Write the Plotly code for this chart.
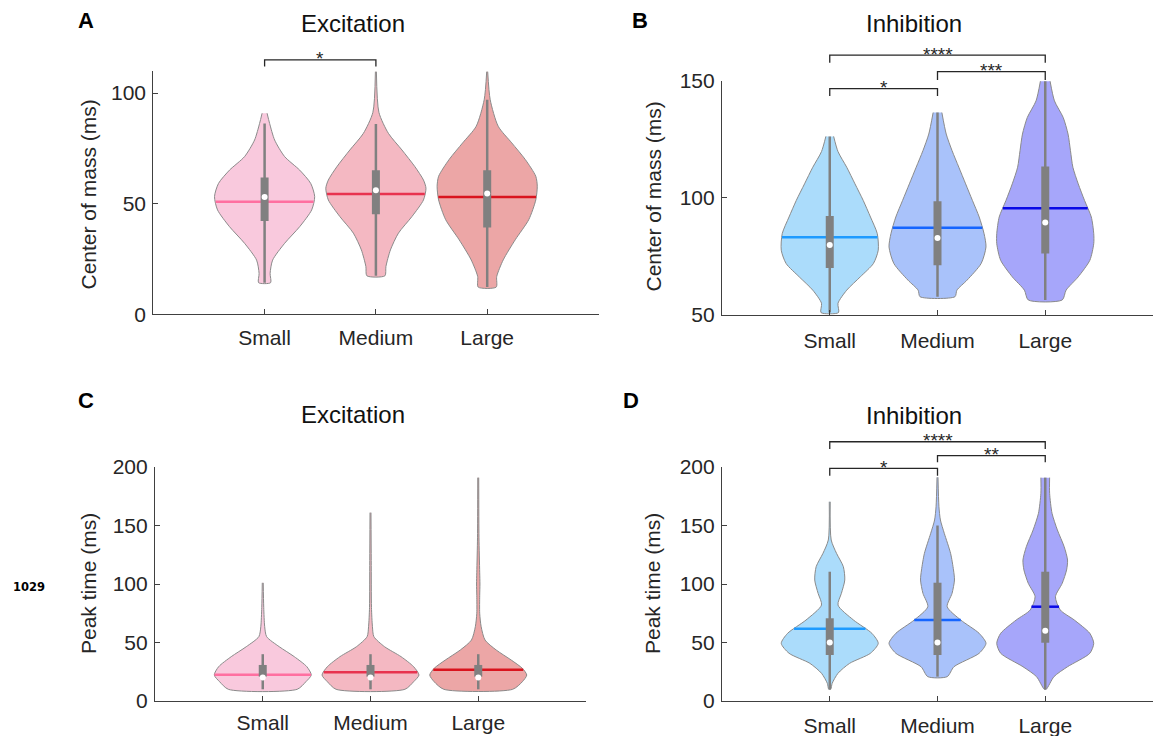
import numpy as np
import plotly.graph_objects as go

W, H = 1160, 736
FONT = "Liberation Sans"

categories = ["Small", "Medium", "Large"]

# ---------------- Panel A : Center of mass, Excitation ----------------
A_small_y = [90.9, 86.3, 78.8, 71.3, 65.2, 59.2, 53.2, 47.2, 39.6, 32.1, 24.5, 18.5, 14.3]
A_small_w = [0.05, 0.10, 0.20, 0.40, 0.70, 0.92, 1.00, 0.94, 0.70, 0.40, 0.16, 0.11, 0.12]
A_medium_y = [109.7, 91.3, 81.8, 74.3, 66.7, 60.7, 57.0, 51.7, 44.2, 36.7, 29.1, 21.6, 17.4]
A_medium_w = [0.01, 0.06, 0.25, 0.52, 0.78, 0.95, 1.00, 0.95, 0.72, 0.45, 0.29, 0.20, 0.18]
A_large_y = [109.7, 97.0, 85.0, 77.5, 70.0, 62.4, 57.9, 51.7, 42.8, 33.7, 24.6, 17.1, 12.3]
A_large_w = [0.01, 0.06, 0.22, 0.49, 0.76, 0.97, 1.00, 0.97, 0.83, 0.56, 0.32, 0.19, 0.18]
A_whisk_lo = [14.3, 17.4, 12.3]
A_whisk_hi = [86.3, 86.0, 97.0]
A_q1 = [42.2, 45.2, 39.2]
A_q3 = [61.8, 65.1, 65.1]
A_median = [53.0, 56.1, 54.6]
A_mean = [50.9, 54.4, 53.0]

# ---------------- Panel B : Center of mass, Inhibition ----------------
B_small_y = [126.3, 119.8, 113.1, 106.0, 98.9, 91.8, 84.7, 77.6, 71.9, 66.2, 60.5, 54.9, 50.9]
B_small_w = [0.08, 0.17, 0.35, 0.52, 0.69, 0.84, 0.98, 1.00, 0.90, 0.63, 0.35, 0.17, 0.18]
B_medium_y = [136.5, 127.3, 120.2, 113.1, 106.0, 98.9, 91.8, 84.7, 79.0, 71.9, 64.8, 60.5, 57.7]
B_medium_w = [0.09, 0.18, 0.30, 0.44, 0.58, 0.72, 0.86, 0.96, 1.00, 0.90, 0.61, 0.40, 0.36]
B_large_y = [149.9, 141.5, 134.4, 127.3, 120.2, 113.1, 106.0, 98.9, 91.8, 84.7, 80.4, 73.3, 66.2, 60.5, 56.3]
B_large_w = [0.10, 0.19, 0.37, 0.47, 0.52, 0.57, 0.68, 0.81, 0.95, 1.00, 1.00, 0.92, 0.68, 0.43, 0.35]
B_whisk_lo = [50.9, 57.7, 56.3]
B_whisk_hi = [126.3, 136.5, 149.9]
B_q1 = [70.0, 71.2, 76.2]
B_q3 = [92.2, 98.5, 113.4]
B_median = [79.8, 82.8, 89.5]
B_mean = [83.1, 87.2, 95.6]

# ---------------- Panel C : Peak time, Excitation ----------------
C_small_y = [101.0, 80.0, 63.5, 55.0, 46.4, 37.9, 29.3, 22.2, 16.5, 10.0]
C_small_w = [0.01, 0.02, 0.04, 0.08, 0.34, 0.65, 0.91, 1.00, 0.89, 0.71]
C_medium_y = [161.0, 120.0, 80.0, 63.5, 55.0, 46.4, 37.9, 29.3, 22.2, 16.5, 10.0]
C_medium_w = [0.01, 0.015, 0.02, 0.04, 0.07, 0.29, 0.63, 0.89, 1.00, 0.89, 0.71]
C_large_y = [190.9, 140.0, 110.0, 100.0, 90.0, 75.0, 63.5, 52.1, 43.6, 35.0, 27.9, 22.2, 16.5, 10.0]
C_large_w = [0.01, 0.015, 0.03, 0.035, 0.03, 0.03, 0.06, 0.14, 0.37, 0.68, 0.91, 1.00, 0.91, 0.71]
C_whisk_lo = [10.0, 10.0, 10.0]
C_whisk_hi = [40.0, 40.0, 40.0]
C_q1 = [20.8, 20.8, 20.8]
C_q3 = [30.8, 30.8, 30.8]
C_median = [20.0, 20.0, 20.0]
C_mean = [22.5, 24.5, 26.8]

# ---------------- Panel D : Peak time, Inhibition ----------------
D_small_y = [170.3, 137.6, 126.2, 114.8, 103.4, 92.0, 82.0, 69.2, 57.8, 49.3, 40.8, 32.2, 23.7, 15.1, 10.0]
D_small_w = [0.01, 0.03, 0.14, 0.28, 0.31, 0.24, 0.17, 0.49, 0.87, 1.00, 0.84, 0.41, 0.17, 0.05, 0.02]
D_medium_y = [191.2, 166.0, 154.7, 143.3, 126.2, 112.0, 103.4, 92.0, 80.6, 69.2, 57.8, 49.3, 40.8, 29.3, 20.8]
D_medium_w = [0.01, 0.03, 0.06, 0.14, 0.27, 0.33, 0.35, 0.30, 0.20, 0.48, 0.86, 1.00, 0.86, 0.34, 0.20]
D_large_y = [190.9, 177.5, 160.4, 146.2, 131.9, 120.5, 112.0, 100.6, 89.1, 77.8, 69.2, 57.8, 49.3, 40.8, 29.3, 20.8, 10.0]
D_large_w = [0.09, 0.09, 0.14, 0.25, 0.39, 0.46, 0.44, 0.35, 0.21, 0.31, 0.60, 0.92, 1.00, 0.92, 0.46, 0.18, 0.02]
D_whisk_lo = [10.0, 20.8, 10.0]
D_whisk_hi = [110.5, 150.0, 190.9]
D_q1 = [39.3, 39.3, 49.8]
D_q3 = [70.7, 101.1, 110.5]
D_median = [50.1, 50.1, 60.1]
D_mean = [61.8, 69.2, 80.6]

# ---------------- significance brackets ----------------
A_pairs = [(1, 2)]
A_bracket_y = [115.0]
A_leg_y = [112.0]
A_stars = ["*"]
B_pairs = [(1, 2), (2, 3), (1, 3)]
B_bracket_y = [146.7, 154.0, 161.1]
B_leg_y = [143.6, 150.4, 157.8]
B_stars = ["*", "***", "****"]
D_pairs = [(1, 2), (2, 3), (1, 3)]
D_bracket_y = [198.9, 209.7, 221.6]
D_leg_y = [192.6, 204.0, 215.4]
D_stars = ["*", "**", "****"]

# ---------------- colours ----------------
exc_fill = ["#F9C9DD", "#F4B8C2", "#ECA6A6"]
exc_mean = ["#FF6FA0", "#E8334F", "#D9141E"]
inh_fill = ["#ABDCFB", "#A9C2FA", "#A6A6FA"]
inh_mean = ["#1E9BFF", "#1565FF", "#0A0AE6"]
EDGE = "#8A8A8A"
BOXC = "#808080"
AXC = "#404040"
TXT = "#262626"
HALF = 0.45  # max half width of a violin in category units


def px2x(p):
    return p / W


def px2y(p):
    return 1 - p / H


panels = [
    dict(key="", xdom=(153.3, 598.5), ydom=(71.0, 314.3), yr=(0, 110), yt=[0, 50, 100],
         ys=[A_small_y, A_medium_y, A_large_y], ws=[A_small_w, A_medium_w, A_large_w],
         lo=A_whisk_lo, hi=A_whisk_hi, q1=A_q1, q3=A_q3, med=A_median, mean=A_mean,
         fill=exc_fill, mc=exc_mean, ytitle="Center of mass (ms)", title="Excitation",
         letter="A", title_px=(352.5, 23.5), letter_px=(85.5, 20.5), ylab_px=(87.5, 195),
         pairs=A_pairs, by=A_bracket_y, ly=A_leg_y, stars=A_stars, standoff=4),
    dict(key="2", xdom=(722.0, 1153.0), ydom=(81.0, 314.7), yr=(50, 150), yt=[50, 100, 150],
         ys=[B_small_y, B_medium_y, B_large_y], ws=[B_small_w, B_medium_w, B_large_w],
         lo=B_whisk_lo, hi=B_whisk_hi, q1=B_q1, q3=B_q3, med=B_median, mean=B_mean,
         fill=inh_fill, mc=inh_mean, ytitle="Center of mass (ms)", title="Inhibition",
         letter="B", title_px=(914.0, 23.5), letter_px=(640.0, 20.5), ylab_px=(652.5, 197),
         pairs=B_pairs, by=B_bracket_y, ly=B_leg_y, stars=B_stars, standoff=7),
    dict(key="3", xdom=(155.0, 586.0), ydom=(467.0, 701.0), yr=(0, 200), yt=[0, 50, 100, 150, 200],
         ys=[C_small_y, C_medium_y, C_large_y], ws=[C_small_w, C_medium_w, C_large_w],
         lo=C_whisk_lo, hi=C_whisk_hi, q1=C_q1, q3=C_q3, med=C_median, mean=C_mean,
         fill=exc_fill, mc=exc_mean, ytitle="Peak time (ms)", title="Excitation",
         letter="C", title_px=(352.5, 414.0), letter_px=(85.5, 400.5), ylab_px=(88.0, 584),
         pairs=[], by=[], ly=[], stars=[], standoff=3),
    dict(key="4", xdom=(722.0, 1153.0), ydom=(467.0, 701.0), yr=(0, 200), yt=[0, 50, 100, 150, 200],
         ys=[D_small_y, D_medium_y, D_large_y], ws=[D_small_w, D_medium_w, D_large_w],
         lo=D_whisk_lo, hi=D_whisk_hi, q1=D_q1, q3=D_q3, med=D_median, mean=D_mean,
         fill=inh_fill, mc=inh_mean, ytitle="Peak time (ms)", title="Inhibition",
         letter="D", title_px=(914.0, 416.0), letter_px=(630.5, 400.5), ylab_px=(652.0, 584),
         pairs=D_pairs, by=D_bracket_y, ly=D_leg_y, stars=D_stars, standoff=6),
]

fig = go.Figure()
annotations = []
shapes = []
layout_axes = {}

for p in panels:
    k = p["key"]
    xa, ya = "x" + k, "y" + k
    ydom = (px2y(p["ydom"][1]), px2y(p["ydom"][0]))
    r0, r1 = p["yr"]

    def ypaper(v, ydom=ydom, r0=r0, r1=r1):
        return ydom[0] + (v - r0) / (r1 - r0) * (ydom[1] - ydom[0])

    for i in range(3):
        c = i + 1
        y = np.array(p["ys"][i], dtype=float)
        w = np.array(p["ws"][i], dtype=float) * HALF
        xs = np.concatenate([c - w, (c + w)[::-1]])
        yy = np.concatenate([y, y[::-1]])
        fig.add_trace(go.Scatter(
            x=xs, y=yy, mode="lines", fill="toself", fillcolor=p["fill"][i],
            line=dict(color=EDGE, width=1, shape="spline", smoothing=0.7),
            xaxis=xa, yaxis=ya, hoverinfo="skip", showlegend=False))
        # mean line across the local violin width
        order = np.argsort(y)
        mw = float(np.interp(p["mean"][i], y[order], w[order]))
        fig.add_trace(go.Scatter(
            x=[c - mw, c + mw], y=[p["mean"][i], p["mean"][i]], mode="lines",
            line=dict(color=p["mc"][i], width=2.5),
            xaxis=xa, yaxis=ya, hoverinfo="skip", showlegend=False))
        # whisker
        fig.add_trace(go.Scatter(
            x=[c, c], y=[p["lo"][i], p["hi"][i]], mode="lines",
            line=dict(color=BOXC, width=2.5),
            xaxis=xa, yaxis=ya, hoverinfo="skip", showlegend=False))
        # IQR box
        fig.add_trace(go.Scatter(
            x=[c, c], y=[p["q1"][i], p["q3"][i]], mode="lines",
            line=dict(color=BOXC, width=8),
            xaxis=xa, yaxis=ya, hoverinfo="skip", showlegend=False))
        # median
        fig.add_trace(go.Scatter(
            x=[c], y=[p["med"][i]], mode="markers",
            marker=dict(color="white", size=6, line=dict(width=0)),
            xaxis=xa, yaxis=ya, hoverinfo="skip", showlegend=False))

    # brackets
    for (a, b), by, ly, st in zip(p["pairs"], p["by"], p["ly"], p["stars"]):
        shapes.append(dict(type="path", xref=xa, yref="paper",
                           path=f"M {a},{ypaper(ly)} L {a},{ypaper(by)} L {b},{ypaper(by)} L {b},{ypaper(ly)}",
                           line=dict(color=TXT, width=1.3)))
        annotations.append(dict(x=(a + b) / 2, y=ypaper(by) + 1.0 / H, xref=xa, yref="paper", text=st,
                                showarrow=False, xanchor="center", yanchor="middle",
                                font=dict(family=FONT, size=19, color=TXT)))

    axis_style = dict(showline=True, linecolor=AXC, linewidth=1.2, ticks="inside", ticklen=5,
                      tickcolor=AXC, tickwidth=1.2, showgrid=False, zeroline=False,
                      automargin=False, tickfont=dict(family=FONT, size=21, color=TXT))
    layout_axes["xaxis" + k] = dict(axis_style, domain=[px2x(p["xdom"][0]), px2x(p["xdom"][1])],
                                    range=[0, 4], tickmode="array", tickvals=[1, 2, 3],
                                    ticktext=categories, anchor=ya, ticklabelstandoff=p["standoff"])
    layout_axes["yaxis" + k] = dict(axis_style, domain=list(ydom), range=list(p["yr"]),
                                    tickmode="array", tickvals=p["yt"], anchor=xa,
                                    ticklabelstandoff=2)

    annotations.append(dict(x=px2x(p["title_px"][0]), y=px2y(p["title_px"][1]), xref="paper", yref="paper",
                            text=p["title"], showarrow=False, xanchor="center", yanchor="middle",
                            font=dict(family=FONT, size=24, color="#111111")))
    annotations.append(dict(x=px2x(p["letter_px"][0]), y=px2y(p["letter_px"][1]), xref="paper", yref="paper",
                            text="<b>" + p["letter"] + "</b>", showarrow=False, xanchor="center",
                            yanchor="middle", font=dict(family=FONT, size=22, color="#000000")))
    annotations.append(dict(x=px2x(p["ylab_px"][0]), y=px2y(p["ylab_px"][1]), xref="paper", yref="paper",
                            text=p["ytitle"], showarrow=False, xanchor="center", yanchor="middle",
                            textangle=-90, font=dict(family=FONT, size=21, color=TXT)))

annotations.append(dict(x=px2x(28.5), y=px2y(587), xref="paper", yref="paper", text="<b>1029</b>",
                        showarrow=False, xanchor="center", yanchor="middle",
                        font=dict(family="DejaVu Sans", size=11.5, color="#000000")))

fig.update_layout(
    width=W, height=H, margin=dict(l=0, r=0, t=0, b=0),
    paper_bgcolor="white", plot_bgcolor="white",
    showlegend=False, annotations=annotations, shapes=shapes,
    **layout_axes,
)

fig.write_html("out.html")
